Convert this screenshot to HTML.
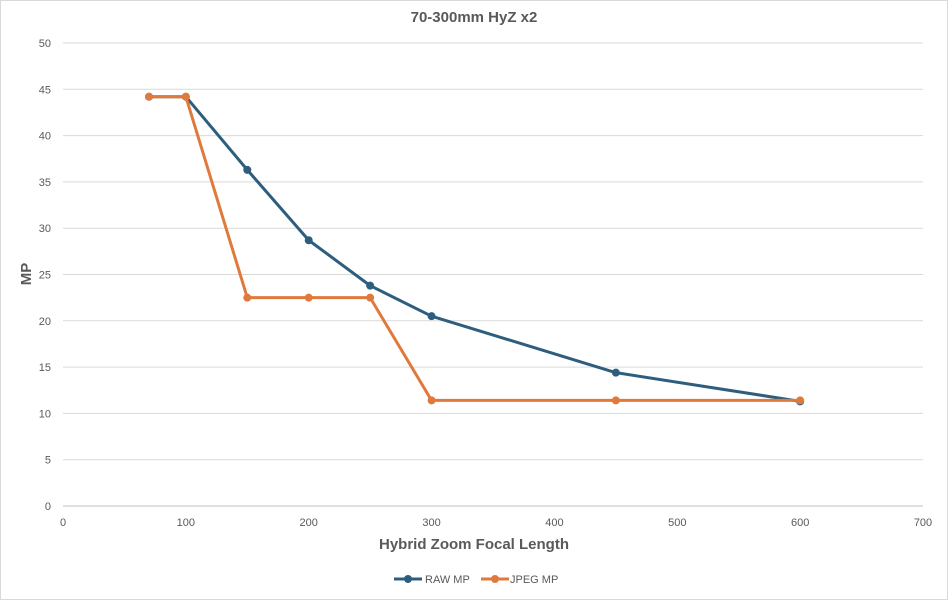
<!DOCTYPE html>
<html><head><meta charset="utf-8"><style>
body{margin:0;background:#fff;}
svg{display:block;font-family:"Liberation Sans",sans-serif;}
</style></head><body>
<svg id="chart" width="948" height="600">
<rect x="0.5" y="0.5" width="947" height="599" fill="#fff" stroke="#d9d9d9"/>
<text x="474" y="22" text-anchor="middle" font-size="15" font-weight="bold" fill="#595959">70-300mm HyZ x2</text>
<g id="grid"></g><g id="axes"></g><g id="series"></g>
<text x="474" y="549" text-anchor="middle" font-size="15" font-weight="bold" fill="#595959">Hybrid Zoom Focal Length</text>
<text transform="translate(31,274) rotate(-90)" text-anchor="middle" font-size="15" font-weight="bold" fill="#595959">MP</text>
<g>
<g><line x1="394" y1="579" x2="422" y2="579" stroke="#2e5e7e" stroke-width="3"/><circle cx="408" cy="579" r="4" fill="#2e5e7e"/><text x="425" y="583" font-size="11" fill="#595959">RAW MP</text></g>
<g><line x1="481" y1="579" x2="509" y2="579" stroke="#e07a3c" stroke-width="3"/><circle cx="495" cy="579" r="4" fill="#e07a3c"/><text x="510" y="583" font-size="11" fill="#595959">JPEG MP</text></g>
</g>
</svg>
<script>
const focal=[70,100,150,200,250,300,450,600];
const rawMP=[44.2,44.2,36.3,28.7,23.8,20.5,14.4,11.3];
const jpegMP=[44.2,44.2,22.5,22.5,22.5,11.4,11.4,11.4];
const xTicks=[0,100,200,300,400,500,600,700];
const yTicks=[0,5,10,15,20,25,30,35,40,45,50];
const NS="http://www.w3.org/2000/svg";
const X=v=>63+v*(860/700);
const Y=v=>506-v*(463/50);
function mk(t,a,p){const e=document.createElementNS(NS,t);for(const k in a)e.setAttribute(k,a[k]);p.appendChild(e);return e;}
const grid=document.getElementById('grid'),axes=document.getElementById('axes'),ser=document.getElementById('series');
yTicks.forEach(v=>{
 const l=mk('line',{x1:X(0),x2:X(700),y1:Y(v),y2:Y(v),stroke:v===0?'#bfbfbf':'#d9d9d9','stroke-width':1},grid);
 
 
 const t=mk('text',{x:X(0)-12,y:Y(v)+4,'text-anchor':'end','font-size':11,fill:'#595959'},axes);
 t.textContent=v;
 
 
});
xTicks.forEach(v=>{
 const t=mk('text',{x:X(v),y:526,'text-anchor':'middle','font-size':11,fill:'#595959'},axes);
 t.textContent=v;
 
 
});
function draw(vals,color,name){
 const g=mk('g',{},ser);
 
 
 const p=mk('polyline',{points:focal.map((f,i)=>X(f)+','+Y(vals[i])).join(' '),fill:'none',stroke:color,'stroke-width':3,'stroke-linejoin':'round'},g);
 
 
 focal.forEach((f,i)=>{
  const c=mk('circle',{cx:X(f),cy:Y(vals[i]),r:4,fill:color},g);
  
  
 });
}
draw(rawMP,'#2e5e7e','raw-mp');
draw(jpegMP,'#e07a3c','jpeg-mp');
</script>
</body></html>
